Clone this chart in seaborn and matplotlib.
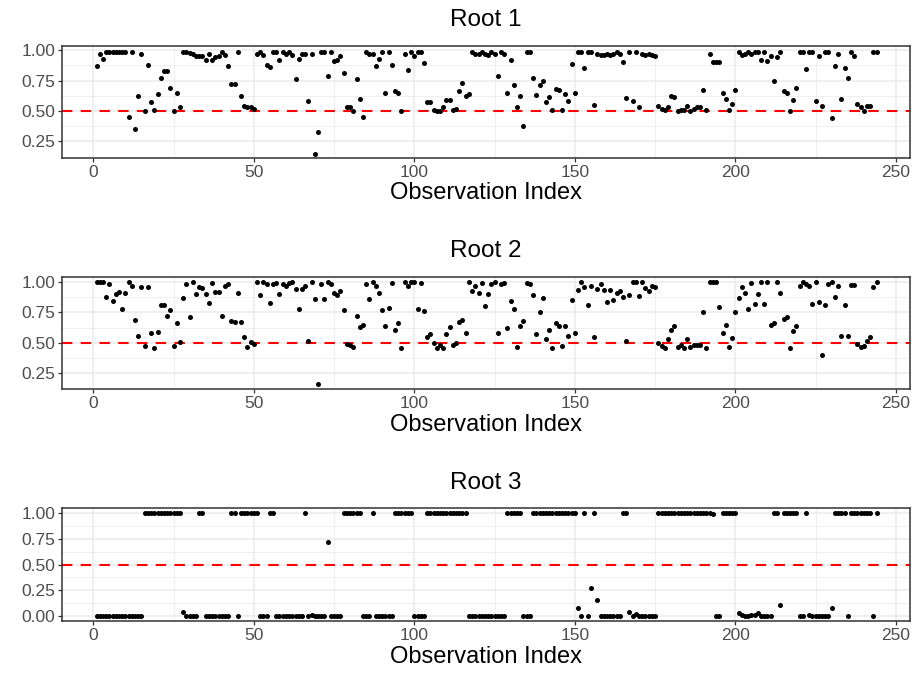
import numpy as np
import pandas as pd
import matplotlib
matplotlib.use("Agg")
import matplotlib.pyplot as plt
import seaborn as sns

# ---------------- data ----------------
root1 = [
    0.87, 0.965, 0.93, 0.98, 0.98, 0.98, 0.98, 0.98, 0.98, 0.98,
    0.45, 0.98, 0.355, 0.62, 0.965, 0.50, 0.88, 0.57, 0.51, 0.64,
    0.77, 0.83, 0.83, 0.69, 0.50, 0.65, 0.53, 0.98, 0.98, 0.975,
    0.965, 0.955, 0.955, 0.955, 0.92, 0.97, 0.92, 0.94, 0.95, 0.98,
    0.96, 0.87, 0.72, 0.72, 0.98, 0.62, 0.54, 0.53, 0.53, 0.52,
    0.965, 0.98, 0.96, 0.88, 0.86, 0.98, 0.98, 0.92, 0.98, 0.97,
    0.98, 0.96, 0.76, 0.93, 0.965, 0.97, 0.58, 0.97, 0.15, 0.33,
    0.98, 0.98, 0.79, 0.98, 0.91, 0.92, 0.95, 0.81, 0.53, 0.53,
    0.50, 0.76, 0.60, 0.45, 0.98, 0.97, 0.965, 0.87, 0.93, 0.98,
    0.65, 0.98, 0.88, 0.66, 0.65, 0.50, 0.97, 0.84, 0.98, 0.95,
    0.98, 0.98, 0.89, 0.57, 0.57, 0.51, 0.50, 0.50, 0.53, 0.59,
    0.59, 0.51, 0.52, 0.66, 0.73, 0.62, 0.64, 0.98, 0.97, 0.97,
    0.98, 0.97, 0.96, 0.98, 0.97, 0.785, 0.98, 0.97, 0.65, 0.92,
    0.71, 0.535, 0.62, 0.375, 0.98, 0.98, 0.77, 0.635, 0.715, 0.745,
    0.57, 0.615, 0.51, 0.68, 0.67, 0.51, 0.64, 0.58, 0.885, 0.65,
    0.98, 0.98, 0.85, 0.98, 0.98, 0.55, 0.97, 0.96, 0.96, 0.97,
    0.96, 0.97, 0.98, 0.97, 0.90, 0.61, 0.98, 0.58, 0.98, 0.535,
    0.97, 0.96, 0.965, 0.96, 0.95, 0.54, 0.52, 0.51, 0.53, 0.62,
    0.615, 0.50, 0.51, 0.51, 0.54, 0.50, 0.52, 0.53, 0.53, 0.675,
    0.51, 0.97, 0.905, 0.905, 0.90, 0.65, 0.60, 0.51, 0.56, 0.675,
    0.98, 0.96, 0.97, 0.98, 0.97, 0.98, 0.98, 0.92, 0.98, 0.91,
    0.95, 0.745, 0.94, 0.98, 0.66, 0.65, 0.50, 0.59, 0.69, 0.98,
    0.98, 0.845, 0.98, 0.98, 0.58, 0.95, 0.54, 0.98, 0.98, 0.44,
    0.87, 0.965, 0.60, 0.85, 0.77, 0.98, 0.95, 0.56, 0.53, 0.50,
    0.54, 0.54, 0.98, 0.98,
]

root2 = [
    1.0, 1.0, 1.0, 0.88, 0.985, 0.845, 0.90, 0.92, 0.78, 0.91,
    1.0, 0.97, 0.685, 0.56, 0.955, 0.475, 0.96, 0.58, 0.46, 0.59,
    0.81, 0.81, 0.72, 0.77, 0.475, 0.66, 0.51, 0.87, 0.98, 0.71,
    1.0, 0.90, 0.96, 0.95, 0.90, 0.83, 0.99, 0.92, 0.92, 0.72,
    0.97, 0.985, 0.68, 0.67, 0.91, 0.67, 0.55, 0.47, 0.51, 0.495,
    1.0, 0.89, 1.0, 0.985, 0.83, 0.98, 0.99, 0.905, 0.985, 0.965,
    0.99, 1.0, 0.94, 0.78, 0.94, 0.965, 0.52, 1.0, 0.86, 0.16,
    0.98, 0.86, 1.0, 0.98, 0.91, 0.89, 0.925, 0.77, 0.495, 0.485,
    0.47, 0.72, 0.63, 0.65, 0.98, 0.86, 1.0, 0.965, 0.91, 0.77,
    0.64, 0.79, 0.99, 0.61, 0.66, 0.46, 1.0, 0.965, 1.0, 1.0,
    0.78, 0.99, 0.76, 0.545, 0.57, 0.50, 0.46, 0.485, 0.46, 0.57,
    0.63, 0.485, 0.50, 0.67, 0.685, 0.58, 1.0, 0.925, 0.97, 0.91,
    0.995, 0.80, 0.905, 0.98, 1.0, 0.585, 0.98, 0.995, 0.62, 0.84,
    0.78, 0.47, 0.64, 0.68, 0.99, 0.98, 0.895, 0.575, 0.75, 0.865,
    0.53, 0.61, 0.46, 0.66, 0.64, 0.475, 0.64, 0.56, 0.855, 0.58,
    0.93, 1.0, 0.955, 0.81, 0.97, 0.55, 0.94, 0.985, 0.93, 0.835,
    0.93, 0.855, 0.91, 0.925, 0.88, 0.52, 0.895, 1.0, 1.0, 0.885,
    1.0, 0.95, 0.925, 0.965, 0.955, 0.50, 0.475, 0.46, 0.53, 0.605,
    0.64, 0.47, 0.485, 0.455, 0.53, 0.47, 0.485, 0.485, 0.485, 0.755,
    0.46, 1.0, 1.0, 1.0, 0.795, 0.58, 0.645, 0.465, 0.54, 0.755,
    0.87, 0.955, 0.91, 0.78, 0.99, 0.82, 0.905, 1.0, 0.82, 1.0,
    0.645, 0.66, 1.0, 0.91, 0.70, 0.71, 0.46, 0.60, 0.64, 0.965,
    1.0, 0.98, 0.965, 0.82, 1.0, 0.835, 0.40, 0.81, 0.98, 1.0,
    0.88, 0.965, 0.56, 0.815, 0.56, 0.975, 0.975, 0.495, 0.465, 0.475,
    0.515, 0.55, 0.96, 1.0,
]

root3 = [
    0, 0, 0, 0, 0, 0, 0, 0, 0, 0,
    0, 0, 0, 0, 0, 1, 1, 1, 1, 1,
    1, 1, 1, 1, 1, 1, 1, 0.04, 0, 0,
    0, 0, 1, 1, 0, 0, 0, 0, 0, 0,
    0, 0, 1, 1, 0, 1, 1, 1, 1, 1,
    1, 0, 0, 0, 1, 1, 0, 0, 0, 0,
    0, 0, 0, 0, 0, 1, 0, 0.01, 0, 0,
    0, 0, 0.72, 0, 0, 0, 0, 1, 1, 1,
    1, 1, 1, 0, 0, 0, 1, 0, 0, 0,
    0, 0, 0, 1, 1, 1, 1, 1, 1, 0,
    0, 0, 0, 1, 1, 1, 1, 1, 1, 1,
    1, 1, 1, 1, 1, 1, 0, 0, 0, 0,
    0, 0, 0, 0, 0, 0, 0, 0, 1, 1,
    1, 1, 1, 0, 0, 0, 1, 1, 1, 1,
    1, 1, 1, 1, 1, 1, 1, 1, 1, 1,
    0.08, 0, 1, 0, 0.27, 1, 0.15, 0, 0, 0,
    0, 0, 0, 0, 1, 1, 0.04, 0, 0.02, 0,
    0, 0, 0, 0, 0, 1, 1, 1, 1, 1,
    1, 1, 1, 1, 1, 1, 1, 1, 1, 1,
    1, 1, 0.99, 0, 0, 1, 1, 1, 1, 1,
    0.03, 0.01, 0, 0, 0.01, 0.01, 0.03, 0, 0, 0,
    0, 1, 1, 0.10, 1, 1, 1, 1, 1, 0,
    0, 1, 0.01, 0, 0, 0, 0, 0, 0, 0.08,
    1, 1, 1, 1, 0, 1, 1, 1, 1, 1,
    1, 1, 0, 1,
]

titles = ["Root 1", "Root 2", "Root 3"]
x_label = "Observation Index"
threshold = 0.5
x_ticks = [0, 50, 100, 150, 200, 250]
y_ticks_list = [[0.25, 0.50, 0.75, 1.00],
                [0.25, 0.50, 0.75, 1.00],
                [0.00, 0.25, 0.50, 0.75, 1.00]]

# ---------------- styling ----------------
sns.set_theme(style="white")
plt.rcParams['font.family'] = ['Liberation Sans', 'DejaVu Sans']

W, H = 918, 678
fig = plt.figure(figsize=(W / 100, H / 100), dpi=100)
fig.patch.set_facecolor("white")

left_px, right_px = 62, 910
boxes = [(45.5, 157.7), (276.7, 389.3), (508.3, 620.8)]
ylims = [(0.117, 1.037), (0.12, 1.043), (-0.05, 1.05)]
xlim = (-9.75, 254.4)

grid_col = "#EBEBEB"
border_col = "#333333"

for k, vals in enumerate([root1, root2, root3]):
    top, bot = boxes[k]
    ax = fig.add_axes([left_px / W, 1 - bot / H, (right_px - left_px) / W, (bot - top) / H])
    df = pd.DataFrame({"idx": np.arange(1, len(vals) + 1), "prob": vals})
    ax.axhline(threshold, color="#FF0000", ls=(0, (5, 4)), lw=1.5, zorder=2)
    sns.scatterplot(data=df, x="idx", y="prob", ax=ax, color="black",
                    s=13, linewidth=0, zorder=3, legend=False)
    ax.set_xlim(*xlim)
    ax.set_ylim(*ylims[k])
    yt = y_ticks_list[k]
    ax.set_xticks(x_ticks)
    ax.set_xticks([25, 75, 125, 175, 225], minor=True)
    ax.set_yticks(yt)
    ax.set_yticks([(a + b) / 2 for a, b in zip(yt[:-1], yt[1:])] +
                  ([yt[0] - 0.125] if yt[0] - 0.125 > ylims[k][0] else []), minor=True)
    ax.set_xticklabels([str(t) for t in x_ticks])
    ax.set_yticklabels([f"{t:.2f}" for t in yt])
    ax.grid(which="major", color=grid_col, lw=1.1, zorder=0)
    ax.grid(which="minor", color=grid_col, lw=0.55, zorder=0)
    ax.set_axisbelow(True)
    for sp in ax.spines.values():
        sp.set_color(border_col)
        sp.set_linewidth(1.1)
    ax.tick_params(which="major", length=3, width=0.9, color=border_col,
                   labelsize=12.5, labelcolor="#4D4D4D", pad=2,
                   bottom=True, left=True)
    ax.tick_params(which="minor", length=0)
    ax.set_xlabel(x_label, fontsize=17, color="black", labelpad=2)
    ax.set_ylabel("")
    ax.set_title(titles[k], fontsize=17.5, color="black", pad=14)

fig.savefig("out.png", dpi=100, facecolor="white")
